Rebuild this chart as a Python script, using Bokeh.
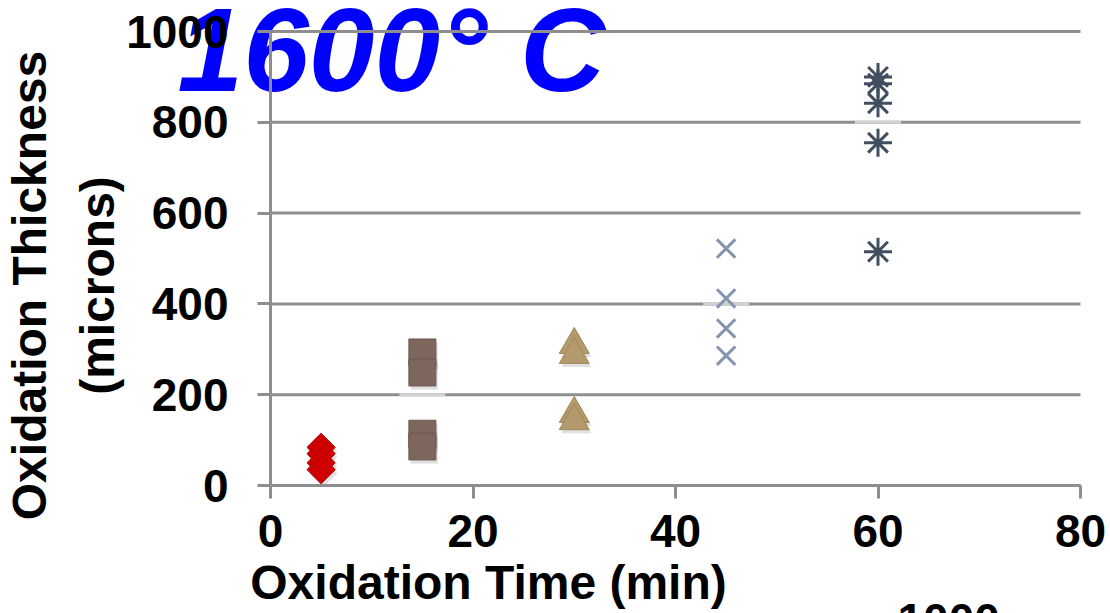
import math
from bokeh.plotting import figure
from bokeh.models import Range1d, Label, FixedTicker
from bokeh.embed import file_html
from bokeh.resources import INLINE

# ---- data ----
t5 = [5, 5, 5, 5]
th5 = [84, 70, 50, 35]
t15 = [15, 15, 15, 15]
th15 = [293, 249, 114, 86]
t30 = [30, 30, 30, 30]
th30 = [310, 288, 158, 142]
t45 = [45, 45, 45, 45]
th45 = [522, 412, 346, 286]
t60 = [60, 60, 60, 60, 60]
th60 = [900, 885, 842, 755, 515]
hl_x = [5, 15, 45, 60]
hl_y = [0, 200, 400, 800]
x_ticks = [0, 20, 40, 60, 80]
y_ticks = [0, 200, 400, 600, 800, 1000]

FONT = "Liberation Sans"
W, H = 1110, 613
# plot area in canvas pixels
L, R, T, B = 270, 1080, 31, 485
sx = (R - L) / (x_ticks[-1] - x_ticks[0])
sy = (B - T) / (y_ticks[-1] - y_ticks[0])


def fx(px):
    return x_ticks[0] + (px - L) / sx


def fy(py):
    return y_ticks[0] + (B - py) / sy


p = figure(width=W, height=H, output_backend="svg", toolbar_location=None,
           x_range=Range1d(fx(0), fx(W)), y_range=Range1d(fy(H), fy(0)),
           min_border=0, min_border_left=0, min_border_right=0,
           min_border_top=0, min_border_bottom=0)
p.outline_line_color = None
p.background_fill_color = "white"
p.border_fill_color = "white"
p.grid.visible = False

# title (beneath grid and axes)
p.add_layout(Label(x=fx(177), y=fy(49), text="1600° C", text_font=FONT,
                   text_font_style="bold italic", text_font_size="118px", text_color="#0000ff",
                   text_align="left", text_baseline="middle", level="underlay"))

# horizontal gridlines
p.segment(x0=x_ticks[0], x1=x_ticks[-1], y0=y_ticks, y1=y_ticks,
          line_color="#8e8e8e", line_width=3)

for ax, loc, bnds in ((p.xaxis[0], y_ticks[0], (x_ticks[0], x_ticks[-1])),
                      (p.yaxis[0], x_ticks[0], (y_ticks[0], y_ticks[-1]))):
    ax.fixed_location = loc
    ax.bounds = bnds
    ax.axis_line_color = "#8e8e8e"
    ax.axis_line_width = 3
    ax.major_tick_line_color = "#8e8e8e"
    ax.major_tick_line_width = 3
    ax.major_tick_in = 0
    ax.major_tick_out = 13
    ax.minor_tick_line_color = None
    ax.major_label_text_font = FONT
    ax.major_label_text_font_style = "bold"
    ax.major_label_text_font_size = "46px"
    ax.major_label_text_color = "black"
p.xaxis.ticker = FixedTicker(ticks=x_ticks)
p.yaxis.ticker = FixedTicker(ticks=y_ticks)
p.xaxis.major_label_standoff = 16
p.yaxis.major_label_standoff = 29

# light highlights on gridlines
p.scatter(hl_x, hl_y, marker="dash", size=46, line_color="#d2d2d2", line_width=3)

# shadows
sh = dict(fill_color="#000000", fill_alpha=0.12, line_color=None)
p.scatter([v + 0.2 for v in t5], [v - 8 for v in th5], marker="square", angle=math.pi / 4, size=20, **sh)
p.scatter([v + 0.2 for v in t15], [v - 8 for v in th15], marker="square", size=27, **sh)
p.scatter([v + 0.2 for v in t30], [v - 8 for v in th30], marker="triangle", size=30, **sh)

p.scatter(t5, th5, marker="square", angle=math.pi / 4, size=20, fill_color="#d00000",
          line_color="#b00000", line_width=1)
p.scatter(t15, th15, marker="square", size=27, fill_color="#7d675c", line_color="#6c574d", line_width=1)
p.scatter(t30, th30, marker="triangle", size=30, fill_color="#b39a6c", line_color="#a08659", line_width=1)
p.scatter(t45, th45, marker="x", size=26, line_color="#8494b1", line_width=3)
p.scatter(t60, th60, marker="asterisk", size=28, line_color="#414e5f", line_width=3)

# axis titles
lab = dict(text_font=FONT, text_font_style="bold", text_font_size="48px",
           text_baseline="middle", text_color="black")
p.add_layout(Label(x=fx(488), y=fy(582), text="Oxidation Time (min)", text_align="center", **lab))
p.add_layout(Label(x=fx(29), y=fy(285), text="Oxidation Thickness", text_align="center",
                   angle=math.pi / 2, **lab))
p.add_layout(Label(x=fx(97), y=fy(285), text="(microns)", text_align="center",
                   angle=math.pi / 2, **lab))
lab["text_font_size"] = "46px"
p.add_layout(Label(x=fx(897), y=fy(619), text="1000", text_align="left", **lab))

open("out.html", "w").write(file_html(p, INLINE))
